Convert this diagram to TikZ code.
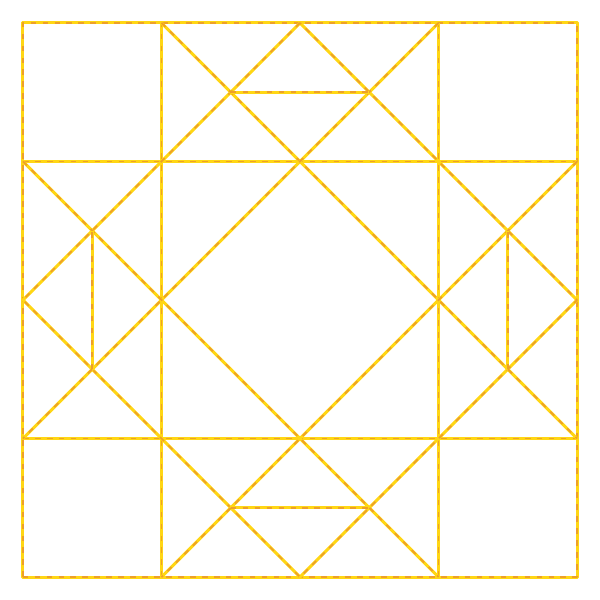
\documentclass[tikz,border=0pt]{standalone}
\usepackage{tikz}

\definecolor{thread}{RGB}{255,214,20}
\definecolor{threaddark}{RGB}{238,160,40}
\tikzset{stitch/.style={draw=thread,line width=0.85pt,line join=round,
    postaction={draw=threaddark,line width=0.5pt,dash pattern=on 1.6pt off 1.8pt}}}

\begin{document}
\begin{tikzpicture}[x=1.385cm,y=1.385cm]
            \useasboundingbox (-0.166,-0.166) rectangle (4.166,4.166);
            % grid points of the block
            \foreach \i in {0,...,4} {
                \foreach \j in {0,...,4} {
                    \coordinate (p\i\j) at (\i,\j);
                }
            }
            % ends of the short bars
            \coordinate (tl) at (1.5,3.5);
            \coordinate (tr) at (2.5,3.5);
            \coordinate (bl) at (1.5,0.5);
            \coordinate (br) at (2.5,0.5);
            \coordinate (lb) at (0.5,1.5);
            \coordinate (lt) at (0.5,2.5);
            \coordinate (rb) at (3.5,1.5);
            \coordinate (rt) at (3.5,2.5);
            % frame and grid
            \draw[stitch] (p00) rectangle (p44);
            \draw[stitch] (p10) -- (p14);
            \draw[stitch] (p30) -- (p34);
            \draw[stitch] (p01) -- (p41);
            \draw[stitch] (p03) -- (p43);
            % big diamond
            \draw[stitch] (p24) -- (p02) -- (p20) -- (p42) -- cycle;
            % long diagonals
            \draw[stitch] (p14) -- (p41);
            \draw[stitch] (p34) -- (p01);
            \draw[stitch] (p03) -- (p30);
            \draw[stitch] (p43) -- (p10);
            % short bars
            \draw[stitch] (tl) -- (tr);
            \draw[stitch] (bl) -- (br);
            \draw[stitch] (lb) -- (lt);
            \draw[stitch] (rb) -- (rt);
        \end{tikzpicture}
\end{document}
